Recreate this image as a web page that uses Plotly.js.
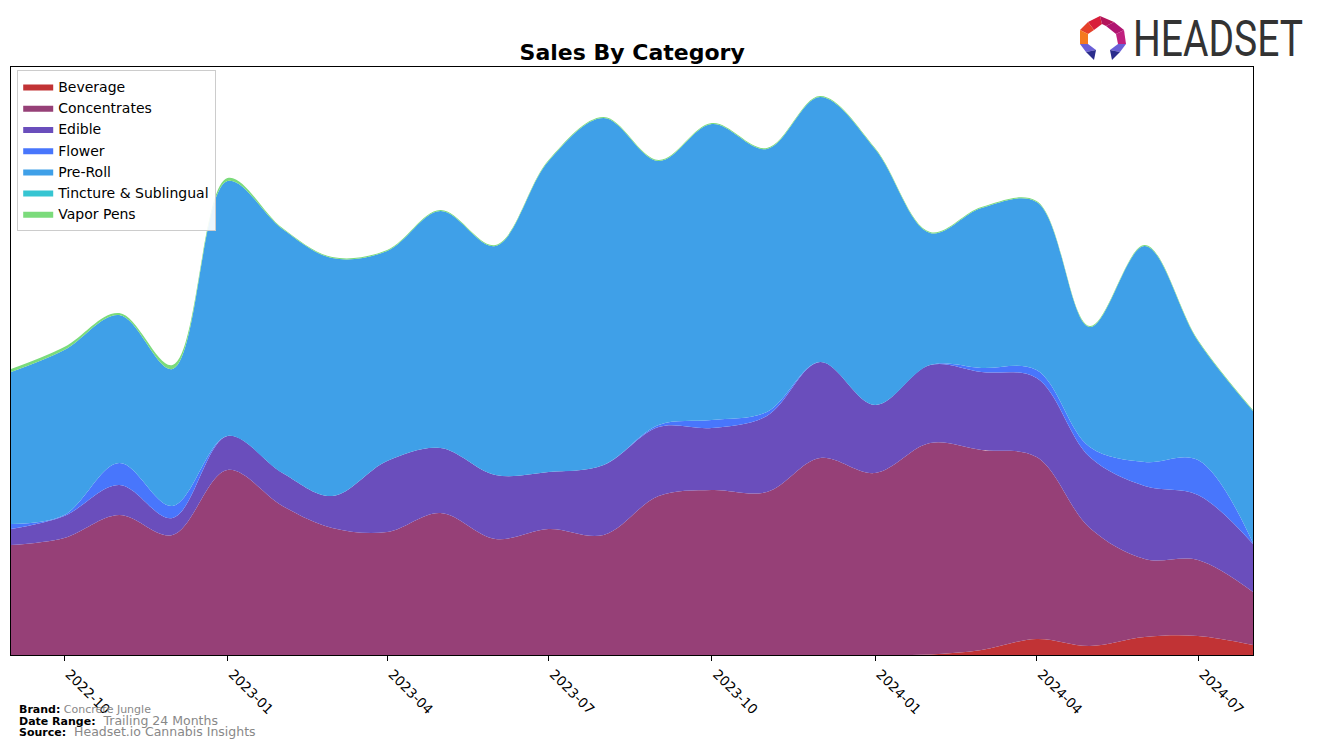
<!DOCTYPE html>
<html>
<head>
<meta charset="utf-8">
<script src="https://cdn.plot.ly/plotly-3.0.1.min.js"></script>
<style>
html,body{margin:0;padding:0;background:#fff;}
#wrap{position:relative;width:1317px;height:747px;}
#chart{width:1317px;height:747px;}
#logo{position:absolute;left:1133px;top:14px;font-family:Roboto,"DejaVu Sans",sans-serif;font-size:50px;line-height:50px;color:#333;transform:scaleX(0.78);transform-origin:0 0;white-space:nowrap;}
</style>
</head>
<body>
<div id="wrap">
<div id="chart"></div>
<div id="logo">HEADSET</div>
</div>
<script>
// ---- data (monthly) ----
const months = ["2022-09-01","2022-10-01","2022-11-01","2022-12-01","2023-01-01","2023-02-01","2023-03-01","2023-04-01","2023-05-01","2023-06-01","2023-07-01","2023-08-01","2023-09-01","2023-10-01","2023-11-01","2023-12-01","2024-01-01","2024-02-01","2024-03-01","2024-04-01","2024-05-01","2024-06-01","2024-07-01","2024-08-01"];
const beverage     = [0,0,0,0,0,0,0,0,0,0,0,0,0,0,0,0,0,0.5,5,16,9,18,19,10];
const concentrates = [110,117,140,120,185,149,127,123,142,116,126,120,159,165,163,197,182,211.5,200,182,118,78,76,53];
const edible       = [16,22,30,17,34,33,32,71,65,64,57,70,69,62,76,96,68,78,78,79,71,73,65,48];
const flower       = [5,1,22,12,0,0,0,0,0,0,0,0,2,8,4,0,0,0,4,8,10,24,35,1];
const preRoll      = [152,165,148,137,255,244,238,210,237,229,311,347,264,296,263,265,256,132,160,168,120,216,119,132];
const tincture     = [0,0,0,0,0,0,0,0,0,0,0,0,0,0,0,0,0,0,0,0,0,0,0,0];
const vaporPens    = [3,3,2,4,3,1,1,1,1,1,1,1,1,1,1,1,1,1,1,1,1,1,1,1];
const tickVals = ["2022-10-01","2023-01-01","2023-04-01","2023-07-01","2023-10-01","2024-01-01","2024-04-01","2024-07-01"];
const tickText = ["2022-10","2023-01","2023-04","2023-07","2023-10","2024-01","2024-04","2024-07"];

const series = [
  {name:"Beverage", y:beverage, color:"#c13335"},
  {name:"Concentrates", y:concentrates, color:"#964077"},
  {name:"Edible", y:edible, color:"#6a4ebc"},
  {name:"Flower", y:flower, color:"#4876fc"},
  {name:"Pre-Roll", y:preRoll, color:"#3fa0e8"},
  {name:"Tincture & Sublingual", y:tincture, color:"#36c5d2"},
  {name:"Vapor Pens", y:vaporPens, color:"#7bdb7b"}
];

const traces = series.map(s => ({
  type:"scatter", mode:"lines", x:months, y:s.y, name:s.name,
  stackgroup:"one", line:{shape:"spline", smoothing:1.0, width:0, color:s.color},
  fillcolor:s.color, hoverinfo:"x+y+name"
}));

// pixel -> paper helpers for decorative logo
const L=11, R=1253, T=67, B=655;
const px = v => (v-L)/(R-L);
const py = v => (B-v)/(B-T);
function poly(pts, color){
  let d = pts.map((p,i)=>(i?"L":"M")+px(p[0]).toFixed(5)+","+py(p[1]).toFixed(5)).join(" ")+" Z";
  return {type:"path", xref:"paper", yref:"paper", path:d, fillcolor:color, line:{width:0}};
}
const shapes = [
  poly([[1100,16],[1088,22],[1094,30],[1102,24]],"#d81f3a"),
  poly([[1100,16],[1114,22],[1106,26],[1102,24]],"#b4155a"),
  poly([[1114,22],[1124,30],[1116,34],[1106,26]],"#b01470"),
  poly([[1124,30],[1126,44],[1118,44],[1116,34]],"#c0207e"),
  poly([[1088,22],[1080,30],[1088,34],[1094,30]],"#e5402a"),
  poly([[1080,30],[1080,44],[1088,44],[1088,34]],"#f47a20"),
  poly([[1080,44],[1088,44],[1096,50],[1086,52]],"#6a5fd6"),
  poly([[1086,52],[1096,50],[1094,60]],"#2b2d8c"),
  poly([[1126,44],[1118,44],[1110,50],[1120,52]],"#6a5fd6"),
  poly([[1120,52],[1110,50],[1112,60]],"#2b2d8c")
];

const annotations = [
  {xref:"paper", yref:"paper", x:px(17), y:py(709), xanchor:"left", yanchor:"middle", showarrow:false,
   text:"<b>Brand:</b> <span style='color:#888'>Concrete Jungle</span>", font:{family:"DejaVu Sans", size:11, color:"#000"}},
  {xref:"paper", yref:"paper", x:px(17), y:py(720), xanchor:"left", yanchor:"middle", showarrow:false,
   text:"<b><span style='font-size:11px'>Date Range:</span></b>&nbsp; <span style='color:#888'>Trailing 24 Months</span>", font:{family:"DejaVu Sans", size:12.5, color:"#000"}},
  {xref:"paper", yref:"paper", x:px(17), y:py(731), xanchor:"left", yanchor:"middle", showarrow:false,
   text:"<b><span style='font-size:11px'>Source:</span></b>&nbsp; <span style='color:#888'>Headset.io Cannabis Insights</span>", font:{family:"DejaVu Sans", size:12.5, color:"#000"}}
];

const layout = {
  width:1317, height:747,
  margin:{l:L, r:1317-R, t:T, b:747-B, pad:0},
  paper_bgcolor:"#fff", plot_bgcolor:"#fff",
  font:{family:"DejaVu Sans", size:13, color:"#000"},
  title:{text:"<b>Sales By Category</b>", x:0.48, xanchor:"center", y:1-52/747, yanchor:"middle", yref:"container",
         font:{family:"DejaVu Sans", size:22, color:"#000"}},
  xaxis:{type:"date", range:["2022-09-01","2024-08-01"], tickvals:tickVals, ticktext:tickText, tickangle:45,
         ticks:"outside", ticklen:5, tickcolor:"#000", showgrid:false, zeroline:false, ticklabelshift:5,
         showline:true, linecolor:"#000", linewidth:1, mirror:true, tickfont:{size:13.5, family:"DejaVu Sans"}},
  yaxis:{range:[0,588], showticklabels:false, ticks:"", showgrid:false, zeroline:false,
         showline:true, linecolor:"#000", linewidth:1, mirror:true},
  legend:{x:0.005, y:py(70), xanchor:"left", yanchor:"top", bgcolor:"rgba(255,255,255,0.9)", bordercolor:"#cccccc", borderwidth:1,
          font:{size:14, family:"DejaVu Sans"}, traceorder:"normal"},
  shapes:shapes, annotations:annotations, showlegend:true
};

Plotly.newPlot("chart", traces, layout, {displayModeBar:false, staticPlot:true});
</script>
</body>
</html>
